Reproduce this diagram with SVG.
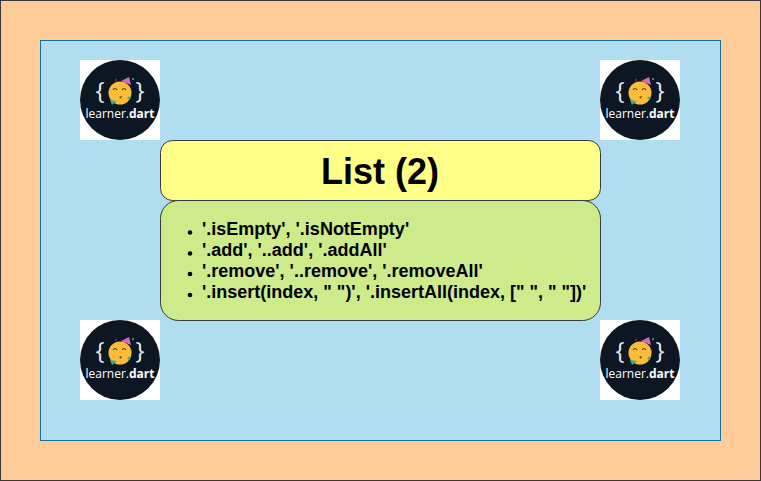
<svg xmlns="http://www.w3.org/2000/svg" xmlns:xlink="http://www.w3.org/1999/xlink" width="761" height="481" viewBox="0 0 761 481">
<style>
.t{font-family:"Liberation Sans",Arial,sans-serif;font-weight:bold;fill:#000}
.i{font-size:18px}
.lg{font-family:"Open Sans","Liberation Sans",sans-serif;font-size:12px;fill:#fff;text-anchor:middle}
.br{font-family:"Open Sans","Liberation Sans",sans-serif;font-size:24px;fill:#e8ecef;text-anchor:middle}
</style>
<defs>
<g id="logo">
<rect width="80" height="80" fill="#fff"/>
<circle cx="40" cy="40" r="40" fill="#0d1723"/>
<text class="br" x="20" y="39">{</text>
<text class="br" x="60" y="39">}</text>
<circle cx="40" cy="33" r="11.500" fill="#fbbc3a"/>
<path d="M33 30q2-3 4 0M42 30q2-3 4 0" fill="none" stroke="#5a3d10" stroke-width="1.200"/>
<path d="M39 37l3-1-1 3z" fill="#6b4a14"/>
<path d="M41 21l8-4 2 8z" fill="#d46ac0"/>
<path d="M30 40l7 1-5 4z" fill="#3fae8c"/>
<circle cx="53" cy="19" r="1" fill="#3fbf5f"/>
<circle cx="36" cy="20" r="0.800" fill="#e0566b"/>
<circle cx="49" cy="38" r="1.500" fill="#3fae8c"/>
<text class="lg" x="40" y="58">learner.<tspan font-weight="bold">dart</tspan></text>
</g>
</defs>
<rect x="0.500" y="0.500" width="760" height="480" fill="#ffcc99" stroke="#36393d"/>
<rect x="40.500" y="40.500" width="680" height="400" fill="#b1ddf0" stroke="#10739e"/>
<g id="logo-tl"><use xlink:href="#logo" href="#logo" x="80" y="60"/></g>
<g id="logo-tr"><use xlink:href="#logo" href="#logo" x="600" y="60"/></g>
<g id="logo-bl"><use xlink:href="#logo" href="#logo" x="80" y="320"/></g>
<g id="logo-br"><use xlink:href="#logo" href="#logo" x="600" y="320"/></g>
<g id="title">
<rect x="160.500" y="140.500" width="440" height="60" rx="12" ry="12" fill="#ffff88" stroke="#36393d"/>
<text class="t" x="380" y="184" font-size="36" text-anchor="middle">List (2)</text>
</g>
<g id="body">
<rect x="160.500" y="200.500" width="440" height="120" rx="18" ry="18" fill="#cdeb8b" stroke="#36393d"/>
<circle cx="190" cy="232.500" r="2.300"/><circle cx="190" cy="253.500" r="2.300"/>
<circle cx="190" cy="274" r="2.300"/><circle cx="190" cy="295" r="2.300"/>
<text class="t i" x="202" y="235">'.isEmpty', '.isNotEmpty'</text>
<text class="t i" x="202" y="256">'.add', '..add', '.addAll'</text>
<text class="t i" x="202" y="277">'.remove', '..remove', '.removeAll'</text>
<text class="t i" x="202" y="298">'.insert(index, " ")', '.insertAll(index, [" ", " "])'</text>
</g>
</svg>
